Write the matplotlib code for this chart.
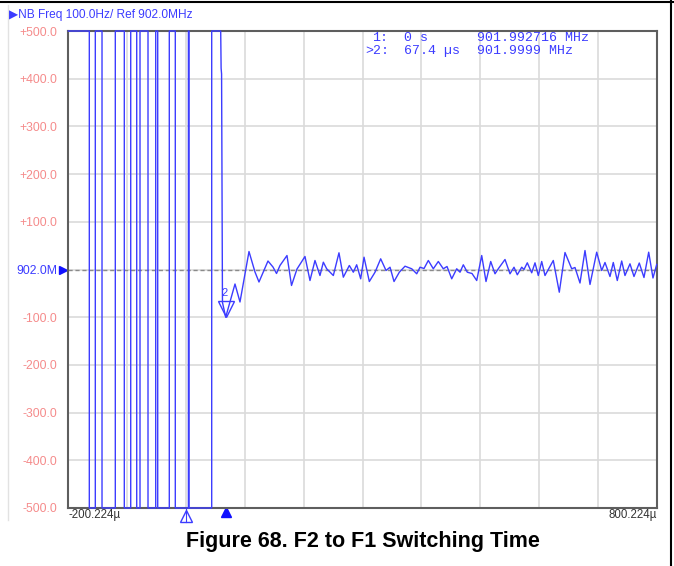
import matplotlib.pyplot as plt
import matplotlib.transforms as mtransforms
from matplotlib.lines import Line2D

W, H = 674, 566

# time axis in microseconds, trace in Hz offset from 902.0 MHz
x_min_us = -200.224
x_max_us = 800.224
y_ticks_hz = [500, 400, 300, 200, 100, 0, -100, -200, -300, -400, -500]
y_tick_labels = ["+500.0", "+400.0", "+300.0", "+200.0", "+100.0", "902.0M",
                 "-100.0", "-200.0", "-300.0", "-400.0", "-500.0"]

# instants where the off-scale trace jumps between top and bottom of the screen
switch_times_us = [-164.5, -154.3, -142.9, -120.3, -105.0, -94.1, -83.9, -78.3,
                   -64.7, -51.6, -48.2, -28.5, -18.3, 4.0, 5.0, 43.6]

# final drop from the top of the screen into the settling window
drop_times_us = [58.9, 59.6, 60.4, 61.9, 67.4]
drop_hz = [500, 422, 410, -69, -100]

# settled ringing around the reference
settle_times_us = [83.2, 91.7, 107.0, 117.2, 124.0, 139.3, 147.8, 153.8, 159.7, 171.6,
                   179.3, 188.6, 202.2, 210.7, 219.2, 227.7, 233.4, 239.1, 250.4, 260.0,
                   267.4, 277.6, 284.4, 290.1, 296.9, 302.6, 311.6, 321.3, 330.9, 340.0,
                   346.8, 353.6, 362.6, 372.3, 383.7, 392.2, 397.8, 404.6, 411.9, 420.4,
                   428.9, 437.4, 443.7, 451.7, 460.2, 465.8, 471.4, 478.2, 486.2, 494.2,
                   502.7, 510.0, 518.0, 525.3, 531.2, 542.3, 550.8, 557.6, 563.2, 570.7,
                   574.6, 580.2, 587.7, 593.3, 598.9, 604.7, 610.3, 624.4, 634.6, 644.3,
                   655.7, 661.3, 669.8, 678.3, 686.8, 698.2, 706.7, 712.3, 720.8, 726.4,
                   733.2, 740.7, 746.3, 754.8, 761.6, 770.6, 778.6, 786.6, 793.9, 800.2]
settle_hz = [-30.4, -68.1, 37.7, -5.2, -26.2, 17.8, 5.2, -8.4, 8.4, 29.3,
             -33.5, 1.0, 27.3, -23.1, 18.9, -12.6, 15.3, 1.5, -12.6, 35.0,
             -16.1, 8.4, -5.7, 9.9, -19.5, 25.8, -25.2, -5.7, 22.4, -2.1,
             4.8, -25.2, -5.7, 6.9, 1.5, -9.0, 4.8, 2.1, 18.9, 1.5,
             16.8, 1.5, 6.3, -19.5, 1.5, -5.7, 9.9, -5.7, -8.4, -23.1,
             29.3, -25.2, 16.8, -9.0, 2.1, 21.0, -9.0, 4.8, -11.1, 4.8,
             0.0, 14.0, -6.9, 14.0, -12.6, 16.8, -12.6, 18.9, -47.6, 35.6,
             1.5, 4.2, -28.3, 39.8, -31.4, 36.3, -2.1, 14.7, -14.7, 14.7,
             -23.1, 17.8, -12.6, 11.9, -14.7, 13.6, -16.8, 36.3, -17.8, 10.5]

marker1_us = 0.0
marker2_us = 67.4
marker2_hz = -100
marker_lines = [("1:", "0 s", "901.992716 MHz"), (">2:", "67.4 µs", "901.9999 MHz")]

TRACE = "#3c3cff"
SALMON = "#f58b8b"

# build the screen trace: clipped at +/-500 while the synthesizer is switching
trace_t = [x_min_us]
trace_v = [500]
level = 500
for t in switch_times_us:
    trace_t += [t, t]
    trace_v += [level, -level]
    level = -level
trace_t += drop_times_us + settle_times_us
trace_v += drop_hz + settle_hz

plt.rcParams["font.family"] = ["Liberation Sans", "DejaVu Sans"]
fig = plt.figure(figsize=(W / 100, H / 100), dpi=100)
ax = fig.add_axes([68.3 / W, 1 - 508 / H, (656.7 - 68.3) / W, (508 - 31) / H])

ax.plot(trace_t, trace_v, color=TRACE, lw=1.0, clip_on=False, zorder=3)
ax.axhline(0, color="#8a8a8a", lw=1.0, ls=(0, (3, 2)), zorder=2)

ax.set_xlim(x_min_us, x_max_us)
ax.set_ylim(-500, 500)
step = (x_max_us - x_min_us) / 10
ax.set_xticks([x_min_us + i * step for i in range(11)])
ax.set_xticklabels([])
ax.set_yticks(y_ticks_hz)
ax.set_yticklabels(y_tick_labels)
ax.tick_params(axis="both", length=0)
ax.tick_params(axis="y", pad=8, labelsize=8.8)
for lab in ax.get_yticklabels():
    lab.set_color(TRACE if lab.get_text() == "902.0M" else SALMON)
ax.grid(True, color="#dadada", lw=1.2)
ax.set_axisbelow(True)
for side in ax.spines.values():
    side.set_color("#5e5e5e")
    side.set_linewidth(1.5)

# reference arrow next to 902.0M
blend = mtransforms.blended_transform_factory(ax.transAxes, ax.transData)
ax.plot([-0.009], [0], marker=">", color="#1010ff", ms=6, transform=blend, clip_on=False)

# marker 2 on the trace
off = mtransforms.offset_copy(ax.transData, fig=fig, x=0, y=8, units="dots")
ax.plot([marker2_us], [marker2_hz], marker="v", ms=11, mfc="none", mec=TRACE, mew=1.0,
        transform=off, zorder=4)
ax.annotate("2", (marker2_us, marker2_hz), xytext=(-1, 24), textcoords="offset pixels",
            ha="center", va="center", color=TRACE, fontsize=8)

# marker flags under the x axis
blend_x = mtransforms.blended_transform_factory(ax.transData, ax.transAxes)
ax.plot([marker1_us], [-0.016], marker="^", ms=9, mfc="none", mec=TRACE, mew=1.0,
        transform=blend_x, clip_on=False)
ax.plot([marker1_us, marker1_us], [-0.03, -0.002], color=TRACE, lw=0.8,
        transform=blend_x, clip_on=False)
ax.plot([marker2_us], [-0.009], marker="^", ms=7, color="#1010ff",
        transform=blend_x, clip_on=False)

# marker readout
rows_y = [38, 51]
for (tag, when, freq), yy in zip(marker_lines, rows_y):
    tx = 371.7 if tag == "1:" else 365
    for txt, xx in ((tag, tx), (when, 403.5), (freq, 476.7)):
        fig.text(xx / W, 1 - yy / H, txt, ha="left", va="center", color=TRACE,
                 fontsize=9.5, family=["Liberation Mono", "DejaVu Sans Mono"])

fig.text(9 / W, 1 - 15 / H, "▶NB Freq 100.0Hz/ Ref 902.0MHz", ha="left", va="center",
         color=TRACE, fontsize=8.6)
fig.text(68.3 / W, 1 - 515 / H, "-200.224µ", ha="left", va="center", color="#333333",
         fontsize=8.3)
fig.text(656.7 / W, 1 - 515 / H, "800.224µ", ha="right", va="center", color="#333333",
         fontsize=8.3)
fig.text(363 / W, 1 - 541 / H, "Figure 68. F2 to F1 Switching Time", ha="center",
         va="center", fontsize=15.5, fontweight="bold", color="black")

# page borders
fig.add_artist(Line2D([0, 1], [1 - 1.5 / H] * 2, color="black", lw=1.5))
fig.add_artist(Line2D([671 / W] * 2, [0, 1], color="black", lw=1.5))
fig.add_artist(Line2D([8 / W] * 2, [1 - 520 / H, 1 - 5 / H], color="#e2e2e2", lw=1.0))

fig.savefig("out.png", dpi=100)
